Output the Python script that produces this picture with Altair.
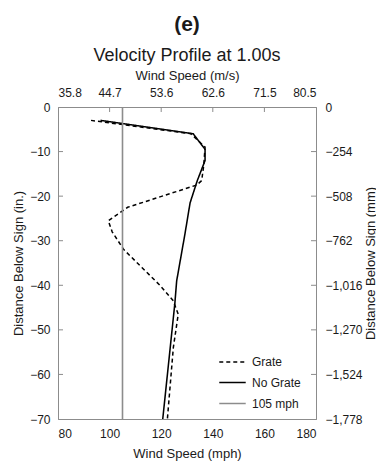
import altair as alt
import pandas as pd

# ---- data ----
depth_grate = [-3.0, -6.0, -9.0, -13.0, -16.5, -17.5, -22.5, -25.5, -28.0, -32.0,
               -36.0, -40.0, -43.5, -46.5, -54.0, -70.0]
speed_grate = [92.8, 131.5, 137.0, 136.5, 135.7, 133.8, 107.0, 99.5, 101.0, 105.5,
               112.5, 119.5, 124.7, 126.6, 124.7, 122.4]

depth_nograte = [-3.0, -6.0, -9.5, -12.0, -16.5, -21.5, -28.5, -39.0, -44.0, -70.0]
speed_nograte = [96.5, 132.4, 137.0, 137.0, 134.0, 131.2, 129.2, 126.0, 125.3, 120.6]

ref_speed = 105
ref_depth = [0, -70]

series_names = ["Grate", "No Grate", "105 mph"]
x_ticks = [80, 100, 120, 140, 160, 180]
y_ticks = [0, -10, -20, -30, -40, -50, -60, -70]
inner_x_ticks = [100, 120, 140, 160]
inner_y_ticks = [-10, -20, -30, -40, -50, -60]

rows = []
for i, (d, s) in enumerate(zip(depth_grate, speed_grate)):
    rows.append({"series": "Grate", "depth": d, "speed": s, "idx": i})
for i, (d, s) in enumerate(zip(depth_nograte, speed_nograte)):
    rows.append({"series": "No Grate", "depth": d, "speed": s, "idx": i})
for i, d in enumerate(ref_depth):
    rows.append({"series": "105 mph", "depth": d, "speed": ref_speed, "idx": i})
df = pd.DataFrame(rows)

FONT = "Liberation Sans"
TXT = "#1a1a1a"
AX = "#8c8c8c"
W, H = 258, 312

xdom = [80, 180]
ydom = [-70, 0]

xs = alt.Scale(domain=xdom, nice=False, zero=False)
ys = alt.Scale(domain=ydom, nice=False, zero=False)

common = dict(labelFont=FONT, titleFont=FONT, labelFontSize=12, titleFontSize=13,
              labelColor=TXT, titleColor=TXT, titleFontWeight="normal",
              domainColor=AX, grid=False, ticks=False)

lines = alt.Chart(df).mark_line().encode(
    x=alt.X("speed:Q", scale=xs,
            axis=alt.Axis(orient="bottom", values=x_ticks, title="Wind Speed (mph)",
                          labelPadding=9, titlePadding=8, **common)),
    y=alt.Y("depth:Q", scale=ys,
            axis=alt.Axis(orient="left", values=y_ticks, title="Distance Below Sign (in.)",
                          labelPadding=8, titlePadding=4, **common)),
    color=alt.Color("series:N",
                    scale=alt.Scale(domain=series_names, range=["#000000", "#000000", "#8c8c8c"]),
                    legend=alt.Legend(title=None, orient="none", legendX=160, legendY=241,
                                      symbolType="stroke", symbolSize=700, symbolStrokeWidth=1.5,
                                      labelFontSize=12, labelFont=FONT, labelColor=TXT,
                                      rowPadding=-3, labelOffset=5)),
    strokeDash=alt.StrokeDash("series:N",
                              scale=alt.Scale(domain=series_names, range=[[4, 3], [1, 0], [1, 0]]),
                              legend=alt.Legend(title=None)),
    strokeWidth=alt.StrokeWidth("series:N",
                                scale=alt.Scale(domain=series_names, range=[1.5, 1.6, 1.1]),
                                legend=None),
    order=alt.Order("idx:Q"),
)

# secondary axes (m/s on top, mm on right)
sec = alt.Chart(df).mark_line(opacity=0).encode(
    x=alt.X("speed:Q", scale=xs,
            axis=alt.Axis(orient="top", values=x_ticks, title="Wind Speed (m/s)",
                          labelExpr="format(datum.value * 0.44704, '.1f')",
                          labelPadding=8, titlePadding=4, **common)),
    y=alt.Y("depth:Q", scale=ys,
            axis=alt.Axis(orient="right", values=y_ticks, title="Distance Below Sign (mm)",
                          labelExpr="format(datum.value * 25.4, ',.0f')",
                          labelPadding=9, titleAngle=270, titleX=54, titleY=H / 2,
                          titleAlign="center", titleBaseline="middle", **common)),
    detail="series:N",
    order=alt.Order("idx:Q"),
)

# inward tick marks
tx = pd.DataFrame({"v": inner_x_ticks})
ty = pd.DataFrame({"v": inner_y_ticks})
top_ticks = alt.Chart(tx).mark_rule(color=AX, strokeWidth=1).encode(
    x=alt.X("v:Q", scale=xs, axis=None), y=alt.value(0), y2=alt.value(5))
left_ticks = alt.Chart(ty).mark_rule(color=AX, strokeWidth=1).encode(
    y=alt.Y("v:Q", scale=ys, axis=None), x=alt.value(0), x2=alt.value(5))
right_ticks = alt.Chart(ty).mark_rule(color=AX, strokeWidth=1).encode(
    y=alt.Y("v:Q", scale=ys, axis=None), x=alt.value(W - 5), x2=alt.value(W))

chart = alt.layer(lines, sec, top_ticks, left_ticks, right_ticks).resolve_scale(
    x="independent", y="independent"
).properties(
    width=W, height=H,
    background="white",
    autosize=alt.AutoSizeParams(type="none"),
    padding={"left": 50, "top": 99, "right": 60, "bottom": 46},
    title=alt.TitleParams(
        text="(e)", subtitle="Velocity Profile at 1.00s",
        fontSize=21, fontWeight="bold", font=FONT, color=TXT,
        subtitleFontSize=18, subtitleFont=FONT, subtitleColor=TXT,
        subtitlePadding=12, offset=4, anchor="middle",
    ),
).configure_view(stroke=AX, strokeWidth=1).configure_axis(
    labelFont=FONT, titleFont=FONT, labelFontSize=12, titleFontSize=13,
    labelColor=TXT, titleColor=TXT, titleFontWeight="normal",
    domainColor=AX, grid=False,
)

chart.save("out.html", embed_options={"renderer": "svg", "actions": False})
